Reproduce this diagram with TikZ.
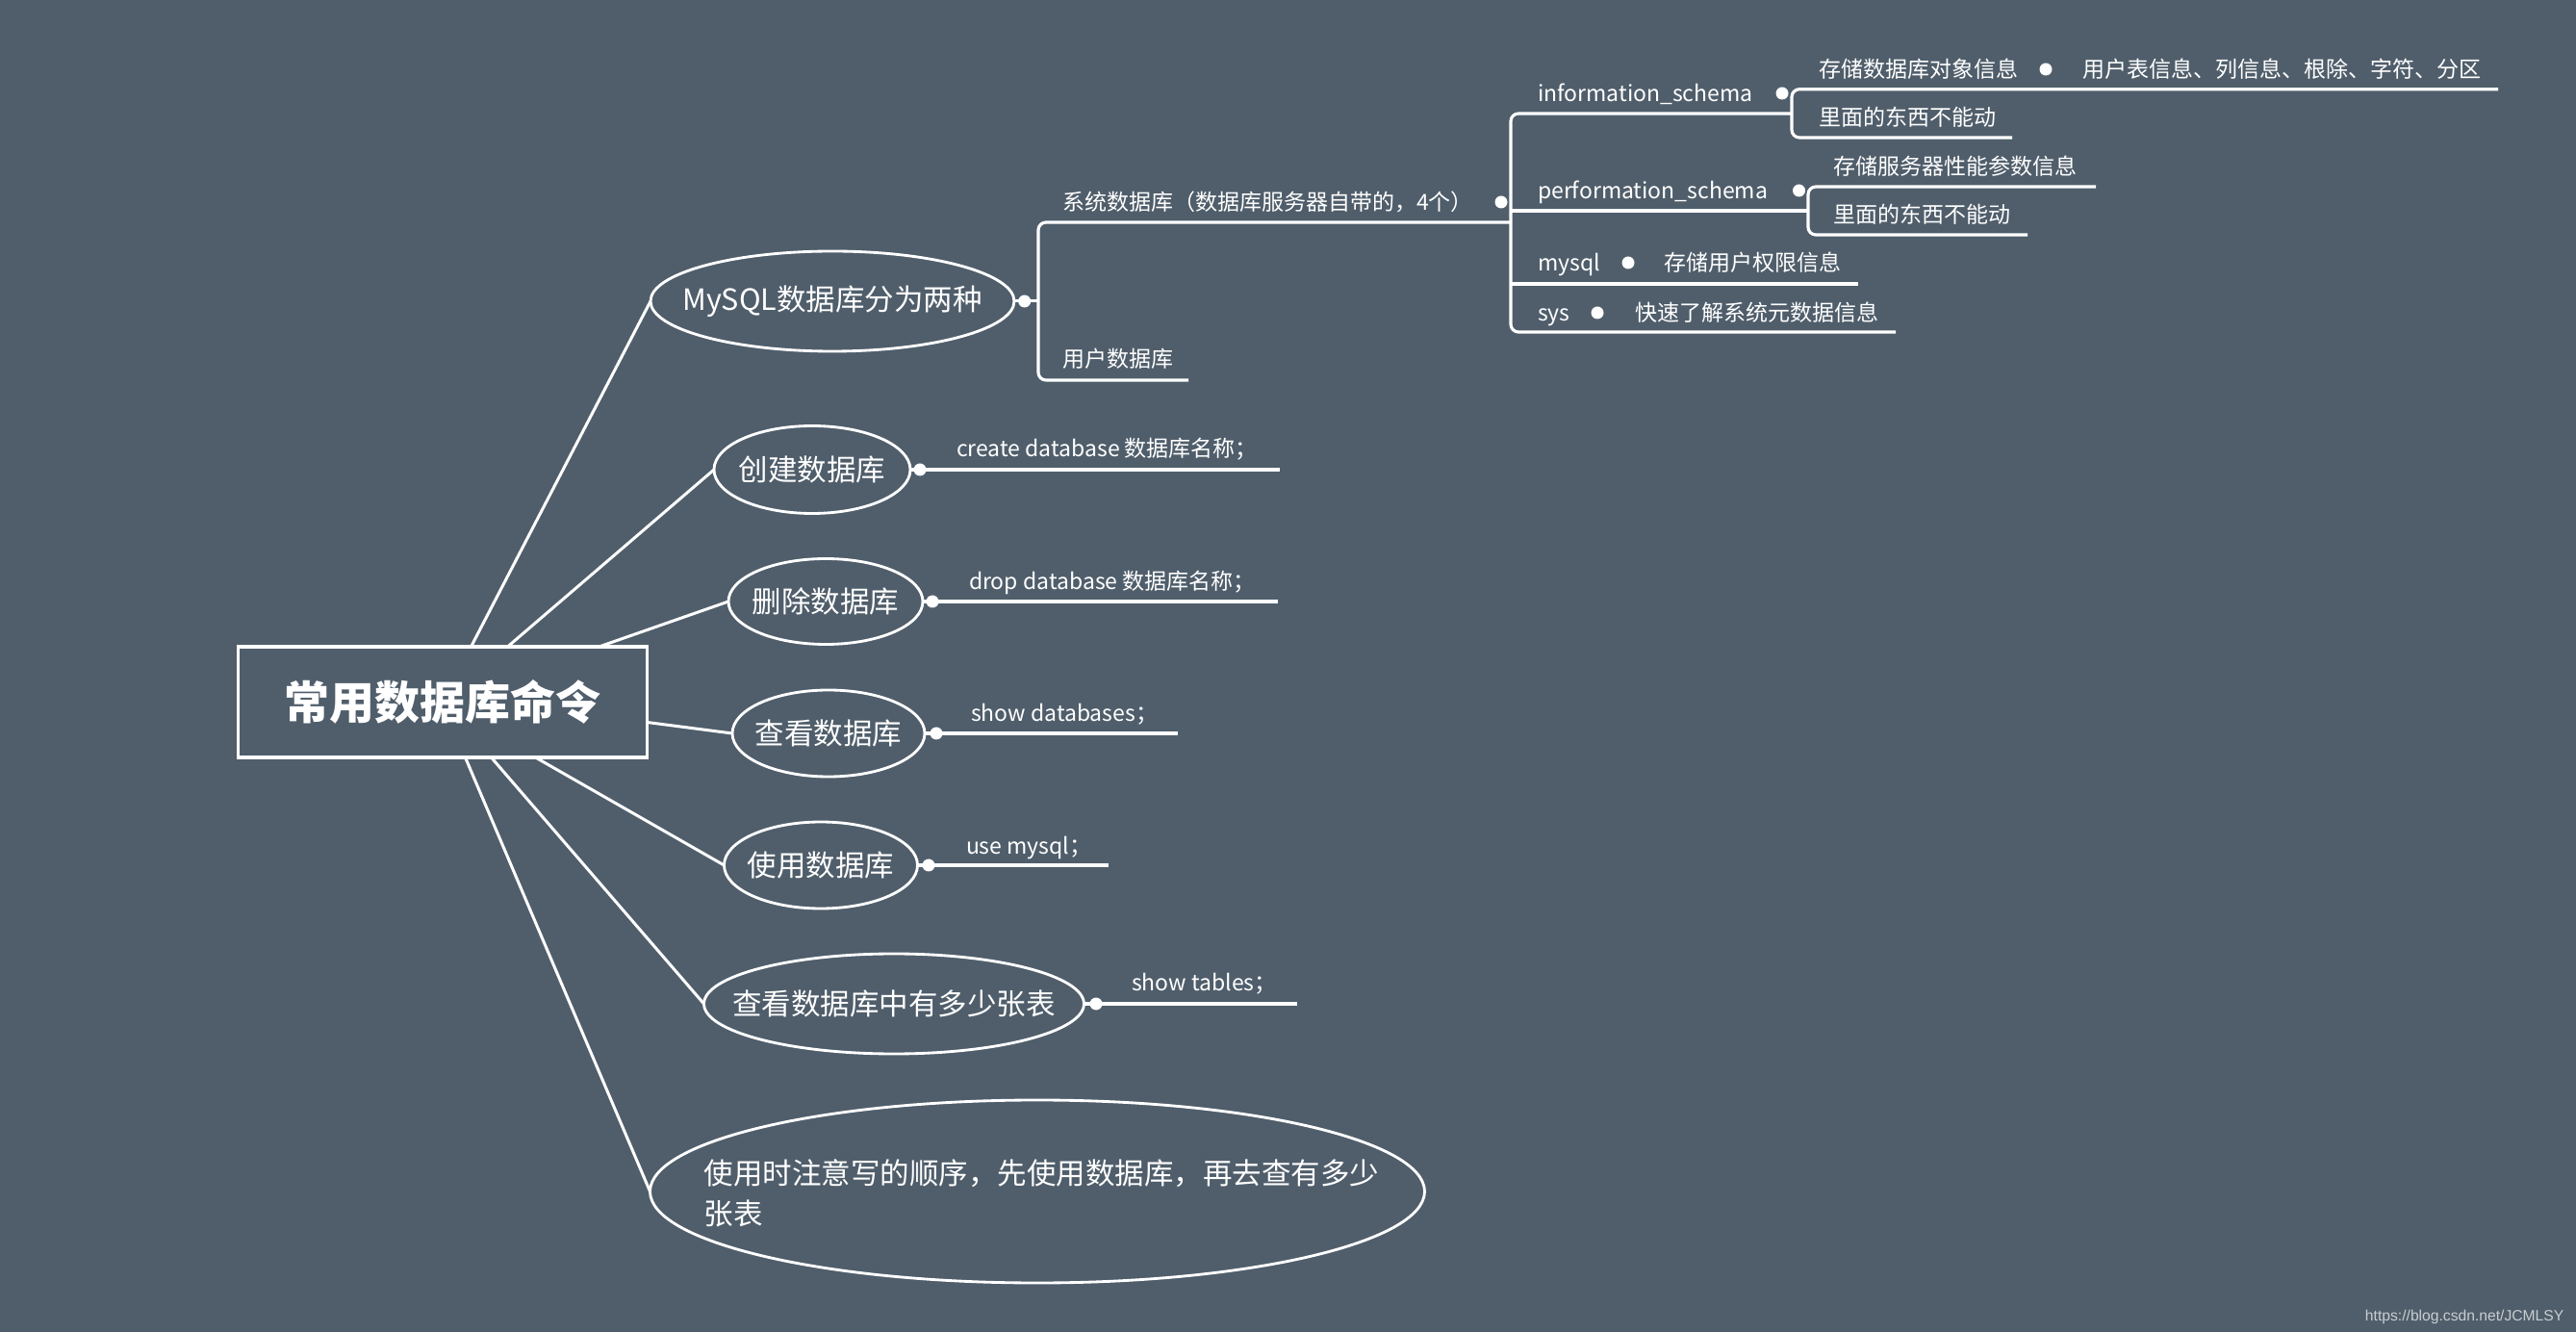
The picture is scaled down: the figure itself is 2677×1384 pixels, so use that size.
\documentclass[tikz,border=0pt]{standalone}
\usepackage{fontspec}
\setmainfont{Noto Sans CJK SC}
\newfontfamily\wmfont{Liberation Sans}
\usetikzlibrary{shapes.geometric,calc}
\definecolor{bg}{RGB}{80,94,107}
\definecolor{wmgray}{RGB}{200,205,210}
\newcommand\myfs[1]{\fontsize{#1}{#1}\selectfont}
\begin{document}
\begin{tikzpicture}[x=0.3pt,y=-0.3pt,
  lab/.style={anchor=west, inner sep=0pt, outer sep=0pt, text=white, font=\myfs{6.9}, text height=6.07pt, text depth=0.83pt},
  ell/.style={ellipse, draw=white, line width=0.85pt, inner sep=0pt, outer sep=0pt},
  etxt/.style={inner sep=0pt, text=white, font=\myfs{9.15}},
  dot/.style={circle, fill=white, inner sep=0pt, minimum size=3.9pt},
  conn/.style={white, line width=0.9pt},
  ul/.style={white, line width=0.95pt, rounded corners=2.4pt},
  rootbox/.style={draw=white, line width=1.05pt, inner sep=0pt, outer sep=0pt, minimum width=127.5pt, minimum height=34.5pt, text=white, font=\myfs{14.1}\bfseries}
]
\fill[bg] (0,0) rectangle (2677,1384);
\useasboundingbox (0,0) rectangle (2677,1384);

% root
\node[rootbox] (root) at (460,729.5) {常用数据库命令};

% ellipses
\node[ell, minimum width=113.4pt, minimum height=31.2pt] (e1) at (865,313) {};
\node[ell, minimum width=61.2pt, minimum height=27.3pt] (e2) at (844,488) {};
\node[ell, minimum width=60.6pt, minimum height=26.7pt] (e3) at (858,625) {};
\node[ell, minimum width=60pt, minimum height=27pt] (e4) at (861,762) {};
\node[ell, minimum width=60.3pt, minimum height=27pt] (e5) at (853,899) {};
\node[ell, minimum width=118.5pt, minimum height=31.2pt] (e6) at (929,1043) {};
\node[ell, minimum width=241.5pt, minimum height=57pt] (e7) at (1078,1238) {};

\node[etxt] (t1) at (e1.center) {MySQL数据库分为两种};
\node[etxt] (t2) at (e2.center) {创建数据库};
\node[etxt] (t3) at (e3.center) {删除数据库};
\node[etxt] (t4) at (e4.center) {查看数据库};
\node[etxt] (t5) at (e5.center) {使用数据库};
\node[etxt] (t6) at (e6.center) {查看数据库中有多少张表};
\node[etxt, anchor=west, align=left, font=\fontsize{9.15}{12.75}\selectfont] (t7) at (731,1240) {使用时注意写的顺序，先使用数据库，再去查有多少\\张表};

% root connectors
\draw[conn] ($(root.north west)+(242,0)$) -- (e1.west);
\draw[conn] ($(root.north west)+(280,0)$) -- (e2.west);
\draw[conn] ($(root.north west)+(375,0)$) -- (e3.west);
\draw[conn] ($(root.east)+(0,21)$) -- (e4.west);
\draw[conn] ($(root.south west)+(309,0)$) -- (e5.west);
\draw[conn] ($(root.south west)+(263,0)$) -- (e6.west);
\draw[conn] ($(root.south west)+(236,0)$) -- (e7.west);

% left children
\coordinate (c2) at (1330,488);
\coordinate (c3) at (1328,625);
\coordinate (c4) at (1224,762);
\coordinate (c5) at (1152,899);
\coordinate (c6) at (1348,1043);
\draw[ul] (e2.east) -- (c2);
\draw[ul] (e3.east) -- (c3);
\draw[ul] (e4.east) -- (c4);
\draw[ul] (e5.east) -- (c5);
\draw[ul] (e6.east) -- (c6);
\node[dot] (d2) at (956,488) {};
\node[dot] (d3) at (969,625) {};
\node[dot] (d4) at (973,762) {};
\node[dot] (d5) at (965,899) {};
\node[dot] (d6) at (1139,1043) {};
\node[lab] (l2) at (994,466) {create database 数据库名称；};
\node[lab] (l3) at (1007,604) {drop database 数据库名称；};
\node[lab] (l4) at (1009,741) {show databases；};
\node[lab] (l5) at (1004,879) {use mysql；};
\node[lab] (l6) at (1176,1021) {show tables；};

% MySQL tree
\coordinate (b1m) at (1079,313);
\draw[conn] (e1.east) -- (b1m);
\node[dot] (d1) at (1064.7,313) {};
\draw[ul] (1570,231) -- (1079,231) -- (1079,395) -- (1235,395);
\node[lab] (sysdb) at (1104,210) {系统数据库（数据库服务器自带的，4个）};
\node[lab] (userdb) at (1104,373) {用户数据库};
\node[dot] (dsys) at (1560,210) {};

% second bracket
\draw[ul] (1862,118) -- (1570,118) -- (1570,345) -- (1970,345);
\draw[ul] (1570,219) -- (1879,219);
\draw[ul] (1570,295) -- (1931,295);
\node[lab] (info) at (1598,97) {information\_schema};
\node[lab] (perf) at (1598,198) {performation\_schema};
\node[lab] (mysql) at (1598,273) {mysql};
\node[lab] (sys) at (1598,325) {sys};
\node[dot] (dinfo) at (1852,97) {};
\node[dot] (dperf) at (1869.5,198) {};
\node[dot] (dmysql) at (1692,273) {};
\node[dot] (dsys2) at (1660,325) {};
\node[lab] (mysqlc) at (1729,273) {存储用户权限信息};
\node[lab] (sysc) at (1699,325) {快速了解系统元数据信息};

% info children
\draw[ul] (2596,92.7) -- (1862,92.7) -- (1862,143) -- (2091,143);
\node[lab] (info1) at (1890,72) {存储数据库对象信息};
\node[dot] (dstore) at (2126,72) {};
\node[lab] (info11) at (2164,72) {用户表信息、列信息、根除、字符、分区};
\node[lab] (info2) at (1890,122) {里面的东西不能动};

% perf children
\draw[ul] (2178,194) -- (1879,194) -- (1879,244) -- (2107,244);
\node[lab] (perf1) at (1905,173) {存储服务器性能参数信息};
\node[lab] (perf2) at (1905,223) {里面的东西不能动};

% watermark
\node[anchor=base east, inner sep=0pt, text=wmgray, font=\wmfont\myfs{4.7}] (wm) at (2665,1372) {https://blog.csdn.net/JCMLSY};
\end{tikzpicture}
\end{document}
